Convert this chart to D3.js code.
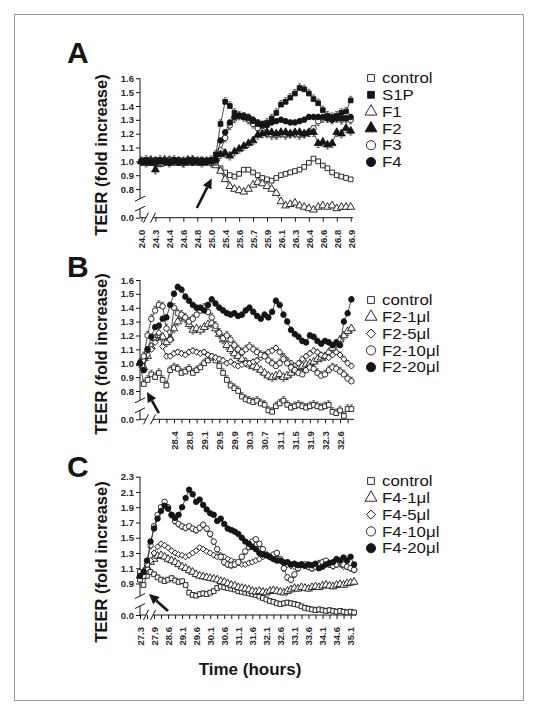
<!DOCTYPE html>
<html><head><meta charset="utf-8">
<script src="https://cdn.jsdelivr.net/npm/d3@7"></script>
<style>body{margin:0;background:#fff}</style>
</head><body>
<svg id="c" width="538" height="715"></svg>
<script>
// ---------- DATA ----------
const yTitle = "TEER (fold increase)";
const xTitle = "Time (hours)";

// Panel A
const namesA = ["control","S1P","F1","F2","F3","F4"];
const xLabelsA = ["24.0","24.3","24.4","24.6","24.8","25.0","25.4","25.6","25.7","25.9","26.1","26.3","26.4","26.6","26.8","26.9"];
const yTicksA = [0.8,0.9,1.0,1.1,1.2,1.3,1.4,1.5,1.6];
const aControl = [1.00,1.01,0.99,1.00,1.00,0.99,1.01,1.00,0.99,1.00,1.01,1.00,0.99,1.00,1.00,1.01,1.00,
  0.95,0.92,0.90,0.89,0.91,0.94,0.94,0.92,0.90,0.88,0.87,0.86,0.88,0.90,0.91,0.92,0.93,0.94,0.96,0.99,1.02,1.00,0.97,0.95,0.92,0.90,0.89,0.88,0.87];
const aS1P = [1.00,1.01,1.00,0.99,1.01,1.00,1.00,1.01,0.99,1.00,1.00,1.01,1.00,1.00,1.00,1.01,1.05,
  1.27,1.43,1.40,1.35,1.33,1.32,1.31,1.29,1.27,1.26,1.28,1.31,1.35,1.41,1.43,1.46,1.49,1.53,1.52,1.49,1.45,1.42,1.37,1.33,1.32,1.33,1.35,1.36,1.44];
const aF1 = [1.00,0.99,1.01,1.00,0.98,1.00,1.01,0.99,1.00,1.00,0.99,1.01,1.00,0.99,1.00,0.99,0.97,
  0.93,0.87,0.82,0.80,0.79,0.78,0.80,0.83,0.85,0.84,0.82,0.80,0.77,0.71,0.68,0.69,0.70,0.68,0.67,0.66,0.65,0.67,0.68,0.67,0.68,0.66,0.67,0.67,0.67];
const aF2 = [1.00,0.99,1.00,0.94,1.00,1.01,0.99,1.00,1.00,0.99,1.01,1.00,1.00,0.99,1.00,1.00,1.02,
  1.05,1.06,1.04,1.07,1.09,1.11,1.13,1.15,1.19,1.20,1.21,1.21,1.20,1.21,1.21,1.20,1.21,1.21,1.20,1.21,1.21,1.13,1.14,1.12,1.13,1.21,1.20,1.24,1.22];
const aF3 = [1.00,1.00,1.01,1.00,0.99,1.00,1.00,1.01,1.00,0.99,1.00,1.00,1.01,1.00,1.00,0.99,1.00,
  1.08,1.17,1.26,1.31,1.33,1.32,1.30,1.27,1.24,1.22,1.20,1.19,1.19,1.20,1.19,1.20,1.20,1.19,1.20,1.21,1.24,1.29,1.31,1.31,1.30,1.31,1.30,1.31,1.30];
const aF4 = [1.00,1.00,0.99,1.01,1.00,1.00,0.99,1.00,1.01,1.00,1.00,0.99,1.00,1.01,1.00,1.00,1.01,
  1.15,1.21,1.28,1.32,1.33,1.33,1.32,1.30,1.28,1.27,1.26,1.28,1.29,1.30,1.29,1.28,1.28,1.29,1.30,1.32,1.32,1.32,1.32,1.31,1.30,1.31,1.31,1.31,1.32];
const errA = [0.05,0.03,0.05,0.03,0.03,0.02];

// Panel B
const namesB = ["control","F2-1\u03bcl","F2-5\u03bcl","F2-10\u03bcl","F2-20\u03bcl"];
const xLabelsB = ["28.4","28.8","29.1","29.5","29.9","30.3","30.7","31.1","31.5","31.9","32.3","32.6"];
const yTicksB = [0.8,0.9,1.0,1.1,1.2,1.3,1.4,1.5,1.6];
const bControl = [1.00,0.85,0.88,0.92,0.90,0.93,0.88,0.84,0.95,0.97,0.96,0.93,0.94,0.96,0.93,0.95,0.97,1.00,1.02,1.04,
  1.02,0.98,0.93,0.88,0.84,0.82,0.80,0.76,0.74,0.73,0.72,0.73,0.71,0.70,0.66,0.65,0.69,0.71,0.73,0.70,
  0.68,0.69,0.70,0.69,0.68,0.69,0.70,0.69,0.68,0.69,0.70,0.65,0.64,0.66,0.62,0.67,0.67];
const b1 = [1.00,0.97,1.05,1.12,1.18,1.20,1.19,1.15,1.18,1.25,1.30,1.34,1.32,1.28,1.24,1.25,1.24,1.26,1.28,1.29,
  1.25,1.21,1.17,1.13,1.10,1.07,1.05,1.03,1.01,0.99,0.98,0.97,0.95,0.93,0.91,0.90,0.91,0.92,0.90,0.91,
  0.93,0.95,0.97,0.98,0.99,1.00,1.01,1.03,1.04,1.05,1.08,1.11,1.14,1.17,1.20,1.23,1.25];
const b5 = [1.00,1.02,1.06,1.10,1.15,1.22,1.12,1.05,1.05,1.07,1.08,1.07,1.06,1.08,1.09,1.08,1.07,1.08,1.06,1.05,
  1.04,1.03,1.02,1.00,1.01,0.99,0.98,0.99,1.00,1.00,1.01,1.02,1.04,1.06,1.08,1.09,1.11,1.08,1.05,1.02,
  1.00,0.98,1.00,1.03,1.05,1.07,1.09,1.08,1.06,1.05,1.04,1.06,1.08,1.06,1.03,1.00,0.98];
const b10 = [1.00,1.05,1.20,1.32,1.38,1.42,1.41,1.25,1.17,1.40,1.36,1.35,1.33,1.30,1.32,1.35,1.38,1.40,1.37,1.33,
  1.27,1.22,1.18,1.20,1.17,1.13,1.10,1.08,1.10,1.12,1.10,1.08,1.06,1.05,1.02,1.00,0.98,1.00,1.03,1.00,
  0.97,0.95,0.93,0.92,0.95,0.97,0.96,0.93,0.91,0.92,0.95,0.97,0.96,0.94,0.92,0.89,0.87];
const b20 = [1.00,0.95,1.10,1.19,1.26,1.27,1.32,1.33,1.42,1.50,1.55,1.53,1.48,1.45,1.42,1.40,1.40,1.38,1.42,1.46,
  1.43,1.40,1.38,1.36,1.35,1.36,1.34,1.35,1.38,1.40,1.37,1.34,1.32,1.35,1.33,1.37,1.45,1.42,1.35,1.30,
  1.24,1.21,1.19,1.16,1.15,1.20,1.19,1.16,1.14,1.16,1.15,1.13,1.15,1.13,1.30,1.36,1.46];
const errB = [0.03,0.03,0.02,0.03,0.02];

// Panel C
const namesC = ["control","F4-1\u03bcl","F4-5\u03bcl","F4-10\u03bcl","F4-20\u03bcl"];
const xLabelsC = ["27.3","27.9","28.6","29.1","29.6","30.1","30.6","31.1","31.6","32.1","32.6","33.1","33.6","34.1","34.6","35.1"];
const yTicksC = [0.9,1.1,1.3,1.5,1.7,1.9,2.1,2.3];
const cControl = [0.95,0.88,1.00,1.05,1.02,0.98,0.95,0.93,0.95,0.97,0.94,0.92,0.93,0.88,0.78,0.75,0.74,0.76,0.77,0.76,
  0.78,0.80,0.84,0.86,0.85,0.84,0.83,0.82,0.80,0.79,0.78,0.77,0.76,0.75,0.73,0.71,0.69,0.67,0.66,0.64,
  0.63,0.64,0.65,0.64,0.63,0.62,0.60,0.58,0.57,0.56,0.55,0.56,0.55,0.54,0.55,0.54,0.53,0.54,0.53,0.52,0.53,0.52];
const c1 = [1.00,1.05,1.12,1.18,1.22,1.26,1.27,1.25,1.22,1.20,1.18,1.15,1.12,1.10,1.07,1.05,1.02,1.00,0.99,0.98,
  0.97,0.96,0.95,0.93,0.92,0.90,0.88,0.87,0.85,0.84,0.83,0.82,0.80,0.79,0.80,0.79,0.78,0.80,0.81,0.80,
  0.79,0.78,0.80,0.82,0.84,0.83,0.85,0.84,0.83,0.85,0.86,0.85,0.87,0.88,0.87,0.86,0.88,0.89,0.88,0.90,0.91,0.92];
const c5 = [1.05,1.05,1.10,1.20,1.30,1.38,1.42,1.40,1.37,1.33,1.30,1.28,1.27,1.25,1.27,1.30,1.33,1.37,1.35,1.32,
  1.30,1.27,1.25,1.27,1.25,1.22,1.20,1.18,1.17,1.15,1.15,1.17,1.18,1.20,1.22,1.25,1.27,1.25,1.23,1.22,
  1.20,1.18,1.15,1.13,1.12,1.13,1.15,1.14,1.12,1.13,1.15,1.17,1.18,1.16,1.15,1.17,1.18,1.15,1.12,1.13,1.10,1.08];
const c10 = [1.05,1.00,1.15,1.40,1.65,1.80,1.90,1.97,1.90,1.80,1.72,1.68,1.65,1.63,1.65,1.62,1.60,1.63,1.67,1.62,
  1.55,1.45,1.35,1.25,1.18,1.15,1.14,1.15,1.18,1.25,1.32,1.38,1.45,1.48,1.42,1.35,1.28,1.25,1.28,1.30,
  1.22,1.10,0.98,0.95,1.02,1.10,1.15,1.15,1.12,1.10,1.12,1.15,1.18,1.20,1.15,1.13,1.15,1.18,1.15,1.12,1.10,1.08];
const c20 = [1.00,1.05,1.20,1.45,1.62,1.75,1.85,1.92,1.88,1.80,1.76,1.80,1.90,2.02,2.13,2.07,1.97,2.00,1.93,1.87,
  1.82,1.80,1.72,1.75,1.68,1.62,1.60,1.58,1.55,1.50,1.45,1.42,1.38,1.35,1.30,1.28,1.27,1.25,1.22,1.20,
  1.20,1.17,1.18,1.15,1.16,1.14,1.15,1.13,1.15,1.14,1.16,1.10,1.12,1.15,1.17,1.18,1.22,1.20,1.24,1.20,1.25,1.15];
const errC = [0.03,0.03,0.02,0.04,0.02];

// ---------- DRAWING ----------
const W = 538, H = 715;
const svg = d3.select("#c");
svg.append("rect").attr("width", W).attr("height", H).attr("fill", "#fff");
svg.append("rect").attr("x", 14.5).attr("y", 14.5).attr("width", 509).attr("height", 686)
  .attr("fill", "none").attr("stroke", "#9a9a9a").attr("stroke-width", 1);

const INK = "#151515";
const FONT = "'Liberation Sans', Arial, Helvetica, sans-serif";

function symPath(shape, size) {
  const t = {square: d3.symbolSquare, triangle: d3.symbolTriangle, diamond: d3.symbolSquare, circle: d3.symbolCircle}[shape];
  return d3.symbol(t, size)();
}
const plotSize = {square: 22, triangle: 26, diamond: 18, circle: 24};
const legSize = {square: 46, triangle: 62, diamond: 42, circle: 66};

function drawMarker(g, shape, filled, cx, cy, size) {
  g.append("path").attr("d", symPath(shape, size))
    .attr("transform", `translate(${cx},${cy})` + (shape === "diamond" ? " rotate(45)" : ""))
    .attr("fill", filled ? INK : "#fff").attr("stroke", INK).attr("stroke-width", 0.9);
}

function panel(cfg) {
  const g = svg.append("g");
  const x = d3.scaleLinear().domain([0, cfg.n - 1]).range(cfg.xr);
  const y = d3.scaleLinear().domain(cfg.yd).range(cfg.yr);
  const x0 = 140, y0 = cfg.yr[0], yTop = cfg.yr[1];

  // y axis ticks (with the broken-axis "0.0" tick at the floor)
  const yAxis = d3.axisLeft(y).tickValues([cfg.yd[0]].concat(cfg.yTicks)).tickSize(4).tickPadding(2)
    .tickFormat(d => d === cfg.yd[0] ? "0.0" : d.toFixed(1));
  const ya = g.append("g").attr("transform", `translate(${x0},0)`).call(yAxis);
  ya.select(".domain").remove();
  ya.selectAll("line").attr("stroke", INK);
  ya.selectAll("text").attr("font-family", FONT).attr("font-size", 9.5).attr("font-weight", "bold").attr("fill", "#2a2a2a");

  // x axis ticks
  const labelMap = new Map(cfg.xLabelIdx.map((d, i) => [d, cfg.xLabels[i]]));
  const xAxis = d3.axisBottom(x).tickValues(cfg.xTickIdx).tickSize(4)
    .tickFormat(d => labelMap.get(d) || "");
  const xa = g.append("g").attr("transform", `translate(0,${y0})`).call(xAxis);
  xa.select(".domain").remove();
  xa.selectAll("line").attr("stroke", INK);
  xa.selectAll("text").attr("font-family", FONT).attr("font-size", 9.5).attr("font-weight", "bold").attr("fill", "#2a2a2a")
    .attr("transform", "rotate(-90)").attr("text-anchor", "end").attr("x", -12).attr("y", 0).attr("dy", "0.35em");

  // axis lines with breaks
  const ln = (a, b, c, d, w) => g.append("line").attr("x1", a).attr("y1", b).attr("x2", c).attr("y2", d)
    .attr("stroke", INK).attr("stroke-width", w || 1);
  const gy1 = y0 - 19, gy2 = y0 - 9;
  ln(x0, yTop, x0, gy1); ln(x0, gy2, x0, y0);
  ln(x0 - 5, gy1 + 2.5, x0 + 5, gy1 - 2.5); ln(x0 - 5, gy2 + 2.5, x0 + 5, gy2 - 2.5);
  const gx1 = x0 + 6, gx2 = x0 + 13;
  ln(x0, y0, gx1, y0); ln(gx2, y0, cfg.xEnd, y0);
  ln(gx1 - 2.5, y0 + 5, gx1 + 2.5, y0 - 5); ln(gx2 - 2.5, y0 + 5, gx2 + 2.5, y0 - 5);

  // series
  cfg.order.forEach(si => {
    const s = cfg.series[si];
    const sg = g.append("g");
    // error bars
    s.values.forEach((v, i) => {
      const cx = x(i), e = s.err;
      const lo = s.dir >= 0 ? v : v - e, hi = s.dir <= 0 ? v : v + e;
      const yl = y(Math.max(lo, cfg.yd[0])), yh = y(hi);
      sg.append("line").attr("x1", cx).attr("x2", cx).attr("y1", yl).attr("y2", yh).attr("stroke", "#333").attr("stroke-width", 0.7);
      if (s.dir >= 0) sg.append("line").attr("x1", cx - 1.6).attr("x2", cx + 1.6).attr("y1", yh).attr("y2", yh).attr("stroke", "#333").attr("stroke-width", 0.7);
      if (s.dir <= 0) sg.append("line").attr("x1", cx - 1.6).attr("x2", cx + 1.6).attr("y1", yl).attr("y2", yl).attr("stroke", "#333").attr("stroke-width", 0.7);
    });
    sg.append("path").datum(s.values)
      .attr("d", d3.line().x((d, i) => x(i)).y(d => y(d)))
      .attr("fill", "none").attr("stroke", "#222").attr("stroke-width", 0.8);
    s.values.forEach((v, i) => drawMarker(sg, s.shape, s.filled, x(i), y(v), plotSize[s.shape]));
  });

  // arrow (placed in data coordinates)
  const [ti, tv] = cfg.arrowTip, [ai, av] = cfg.arrowTail;
  const tx = x(ti), ty = y(tv), sx = x(ai), sy = y(av);
  const ang = Math.atan2(ty - sy, tx - sx), hl = 10, hw = 4.8;
  const bx = tx - hl * Math.cos(ang), by = ty - hl * Math.sin(ang);
  ln(sx, sy, bx, by, 2.6);
  g.append("path").attr("d", `M${tx},${ty} L${bx + hw * Math.sin(ang)},${by - hw * Math.cos(ang)} L${bx - hw * Math.sin(ang)},${by + hw * Math.cos(ang)} Z`)
    .attr("fill", INK);

  // legend (wide glyphs, as in the original typeface)
  cfg.series.forEach((s, i) => {
    const cy = cfg.legY + i * 16.8;
    drawMarker(g, s.shape, s.filled, 371, cy, legSize[s.shape]);
    g.append("text").attr("transform", `translate(382,${cy + 5.2}) scale(1.17,1)`).text(s.name)
      .attr("font-family", FONT).attr("font-size", 14.4).attr("fill", INK);
  });

  // y title
  g.append("text").attr("transform", `translate(107,${cfg.titleY}) rotate(-90)`).attr("text-anchor", "middle")
    .text(yTitle).attr("font-family", FONT).attr("font-size", 16.5).attr("font-weight", "bold").attr("fill", INK);
  // panel letter
  g.append("text").attr("x", 67).attr("y", cfg.letterY).text(cfg.letter)
    .attr("font-family", FONT).attr("font-size", 30).attr("font-weight", "bold").attr("fill", INK);
}

const range = (a, b, s) => d3.range(a, b + 0.001, s);

panel({
  letter: "A", letterY: 63, titleY: 155, legY: 78,
  n: aControl.length, xr: [141.5, 350.7], xEnd: 353,
  yd: [0.593, 1.6], yr: [217.7, 78.3], yTicks: yTicksA,
  xTickIdx: range(0, 45, 3), xLabelIdx: range(0, 45, 3), xLabels: xLabelsA,
  arrowTip: [15.1, 0.877], arrowTail: [11.9, 0.663],
  order: [0, 2, 4, 3, 5, 1],
  series: [
    {name: namesA[0], values: aControl, shape: "square", filled: false, err: errA[0], dir: 0},
    {name: namesA[1], values: aS1P, shape: "square", filled: true, err: errA[1], dir: 1},
    {name: namesA[2], values: aF1, shape: "triangle", filled: false, err: errA[2], dir: 0},
    {name: namesA[3], values: aF2, shape: "triangle", filled: true, err: errA[3], dir: -1},
    {name: namesA[4], values: aF3, shape: "circle", filled: false, err: errA[4], dir: -1},
    {name: namesA[5], values: aF4, shape: "circle", filled: true, err: errA[5], dir: 1}
  ]
});

panel({
  letter: "B", letterY: 277, titleY: 354, legY: 300,
  n: bControl.length, xr: [140, 351.4], xEnd: 354,
  yd: [0.596, 1.6], yr: [419.3, 280], yTicks: yTicksB,
  xTickIdx: range(5, 55, 2), xLabelIdx: range(9, 53, 4), xLabels: xLabelsB,
  arrowTip: [1.85, 0.793], arrowTail: [5.0, 0.641],
  order: [0, 1, 2, 3, 4],
  series: [
    {name: namesB[0], values: bControl, shape: "square", filled: false, err: errB[0], dir: 1},
    {name: namesB[1], values: b1, shape: "triangle", filled: false, err: errB[1], dir: -1},
    {name: namesB[2], values: b5, shape: "diamond", filled: false, err: errB[2], dir: 1},
    {name: namesB[3], values: b10, shape: "circle", filled: false, err: errB[3], dir: 1},
    {name: namesB[4], values: b20, shape: "circle", filled: true, err: errB[4], dir: 1}
  ]
});

panel({
  letter: "C", letterY: 477, titleY: 562, legY: 481,
  n: cControl.length, xr: [140, 354.1], xEnd: 356,
  yd: [0.487, 2.3], yr: [615, 476.7], yTicks: yTicksC,
  xTickIdx: range(0, 60, 2), xLabelIdx: range(0, 60, 4), xLabels: xLabelsC,
  arrowTip: [2.56, 0.762], arrowTail: [7.98, 0.54],
  order: [0, 1, 2, 3, 4],
  series: [
    {name: namesC[0], values: cControl, shape: "square", filled: false, err: errC[0], dir: 1},
    {name: namesC[1], values: c1, shape: "triangle", filled: false, err: errC[1], dir: -1},
    {name: namesC[2], values: c5, shape: "diamond", filled: false, err: errC[2], dir: 1},
    {name: namesC[3], values: c10, shape: "circle", filled: false, err: errC[3], dir: -1},
    {name: namesC[4], values: c20, shape: "circle", filled: true, err: errC[4], dir: 1}
  ]
});

svg.append("text").attr("x", 250).attr("y", 675).attr("text-anchor", "middle").text(xTitle)
  .attr("font-family", FONT).attr("font-size", 17).attr("font-weight", "bold").attr("fill", INK);
</script></body></html>
